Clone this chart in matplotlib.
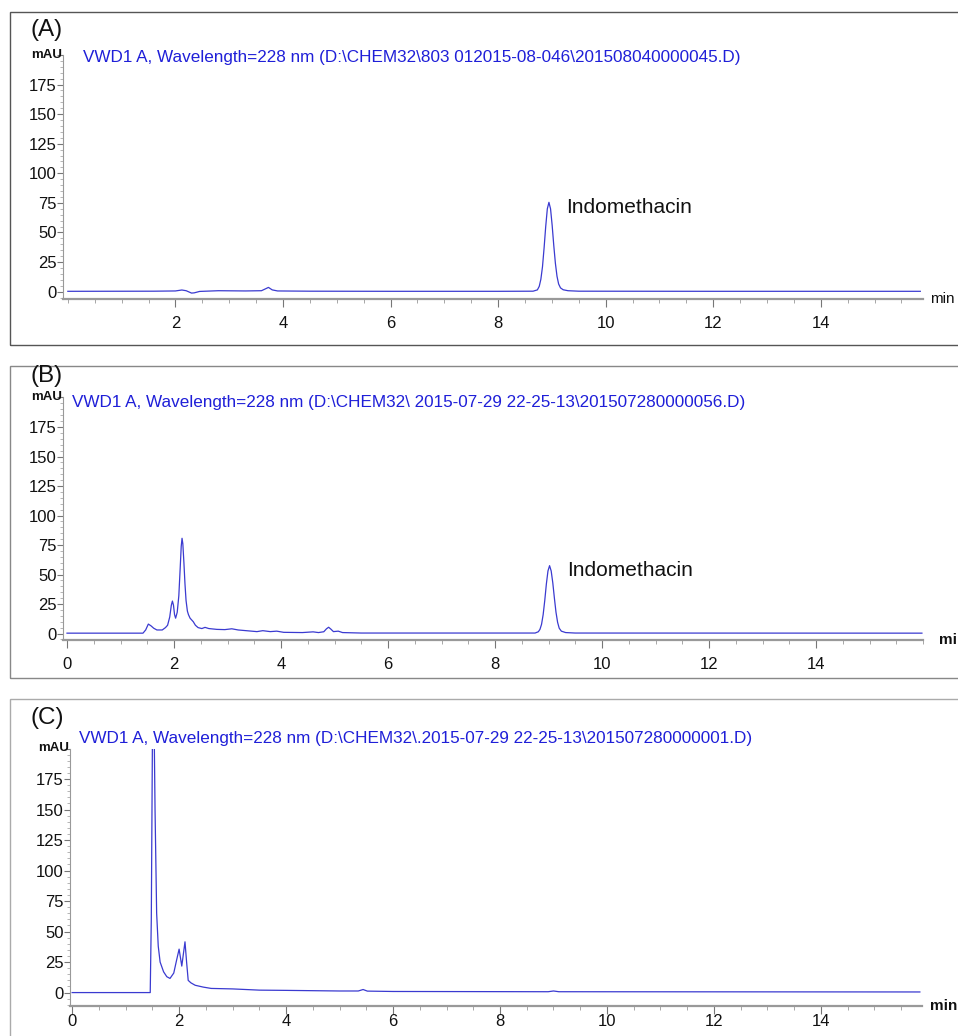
import matplotlib.pyplot as plt
from matplotlib.patches import Rectangle
from matplotlib.ticker import MultipleLocator

plt.rcParams['font.family'] = ['Liberation Sans', 'DejaVu Sans']

# chromatogram A (standard)
time_a = [0.0, 1.6, 2.0, 2.12, 2.2, 2.3, 2.35, 2.45, 2.8, 3.3, 3.6, 3.68, 3.73, 3.8, 3.9,
          4.5, 6.0, 8.0, 8.65, 8.73, 8.765, 8.795, 8.825, 8.855, 8.885, 8.915, 8.945,
          8.975, 9.005, 9.035, 9.065, 9.095, 9.125, 9.16, 9.21, 9.3, 9.5, 12.0, 15.85]
signal_a = [0.3, 0.4, 0.6, 1.4, 0.8, -1.2, -1.0, 0.2, 0.8, 0.6, 0.8, 2.5, 3.6, 1.5, 0.6,
            0.4, 0.3, 0.3, 0.4, 1.5, 4.5, 10.5, 21, 37, 55, 70, 75.5,
            70, 56, 39, 24, 13, 6.5, 3.2, 1.6, 0.8, 0.4, 0.3, 0.3]

# chromatogram B (sample)
time_b = [0.0, 1.42, 1.47, 1.52, 1.57, 1.62, 1.68, 1.78, 1.84, 1.88, 1.92, 1.95, 1.97,
          1.99, 2.01, 2.03, 2.06, 2.09, 2.115, 2.135, 2.15, 2.165, 2.185, 2.205, 2.225,
          2.25, 2.27, 2.30, 2.33, 2.36, 2.40, 2.45, 2.52, 2.58, 2.65, 2.8, 2.95, 3.08,
          3.2, 3.4, 3.55, 3.66, 3.8, 3.92, 4.05, 4.4, 4.6, 4.7, 4.8, 4.85, 4.89, 4.93,
          4.98, 5.07, 5.15, 5.5, 8.75, 8.81, 8.84, 8.87, 8.90, 8.93, 8.96, 8.99, 9.02,
          9.05, 9.08, 9.11, 9.14, 9.17, 9.20, 9.24, 9.32, 9.5, 15.98]
signal_b = [0.3, 0.3, 3, 8, 6.5, 4.5, 3, 3, 5, 7, 14, 24, 27.5,
            24, 16, 13, 18, 32, 55, 74, 80.7, 76, 60, 42, 28,
            19, 16, 13, 11.5, 10, 7, 5, 4.2, 5.2, 4.2, 3.5, 3.3, 4,
            3, 2.2, 1.6, 2.4, 1.6, 2.0, 1.0, 0.8, 1.4, 0.8, 1.5, 4, 5.3, 3.8,
            1.6, 2.0, 0.8, 0.4, 0.4, 1.5, 3.5, 7.8, 16, 28, 42, 53, 57.5,
            53, 43, 30, 18, 9.5, 4.5, 2, 0.8, 0.4, 0.3]

# chromatogram C (blank)
time_c = [0.0, 1.46, 1.48, 1.50, 1.53, 1.55, 1.58, 1.61, 1.645, 1.71, 1.77, 1.83, 1.9,
          1.95, 2.0, 2.05, 2.11, 2.14, 2.17, 2.22, 2.3, 2.45, 2.6, 3.0, 3.5, 4.0, 5.0,
          5.35, 5.44, 5.52, 6.0, 8.9, 9.0, 9.1, 15.85]
signal_c = [0.0, 0.0, 60, 200, 230, 150, 65, 38, 25, 17, 13, 11.6, 16,
            26, 35.6, 21.7, 41.6, 25, 10, 8, 6, 4.5, 3.4, 3.0, 2.0, 1.8, 1.3,
            1.3, 2.5, 1.2, 0.9, 0.7, 1.3, 0.7, 0.5]

y_ticks = [0, 25, 50, 75, 100, 125, 150, 175, 200]
y_labels = ['0', '25', '50', '75', '100', '125', '150', '175', '']

panels = [
    dict(t=time_a, s=signal_a, letter='(A)', zero_label=False, min_bold=False,
         title=r'VWD1 A, Wavelength=228 nm (D:\CHEM32\803 012015-08-046\201508040000045.D)',
         rect=[63, 55, 923, 299], xlim=(-0.09, 15.9), ylim=(-6.2, 200),
         title_xy=(0.28, 197.5), peak_label=(9.27, 71.4), min_x=1.008,
         box=(12, 345, '#555555'), letter_y=30, xpad=6),
    dict(t=time_b, s=signal_b, letter='(B)', zero_label=True, min_bold=True,
         title=r'VWD1 A, Wavelength=228 nm (D:\CHEM32\ 2015-07-29 22-25-13\201507280000056.D)',
         rect=[63, 397.5, 923, 640], xlim=(-0.075, 16.0), ylim=(-5.5, 200),
         title_xy=(0.09, 196), peak_label=(9.34, 53.8), min_x=1.0186,
         box=(366, 678, '#888888'), letter_y=376, xpad=6),
    dict(t=time_c, s=signal_c, letter='(C)', zero_label=True, min_bold=True,
         title=r'VWD1 A, Wavelength=228 nm (D:\CHEM32\.2015-07-29 22-25-13\201507280000001.D)',
         rect=[70, 748.5, 922, 1006], xlim=(-0.04, 15.89), ylim=(-11, 200),
         title_xy=(0.13, 208), peak_label=None, min_x=1.009,
         box=(699, 1040, '#aaaaaa'), letter_y=718, xpad=0),
]

W, H = 958, 1036
fig = plt.figure(figsize=(W / 100, H / 100), dpi=100)

for p in panels:
    # panel frame
    top, bottom, col = p['box']
    fig.add_artist(Rectangle((10 / W, 1 - bottom / H), 1.2, (bottom - top) / H,
                             transform=fig.transFigure, fill=False,
                             edgecolor=col, linewidth=1.0))
    fig.text(30 / W, 1 - p['letter_y'] / H, p['letter'], fontsize=17.5,
             va='center', ha='left', color='#111111')

    l, t, r, b = p['rect']
    ax = fig.add_axes([l / W, 1 - b / H, (r - l) / W, (b - t) / H])
    ax.plot(p['t'], p['s'], color='#3a3ad0', linewidth=0.9)
    ax.set_xlim(*p['xlim'])
    ax.set_ylim(*p['ylim'])

    for side in ['top', 'right']:
        ax.spines[side].set_visible(False)
    ax.spines['bottom'].set_color('#999999')
    ax.spines['bottom'].set_linewidth(1.6)
    ax.spines['left'].set_color('#999999')
    ax.spines['left'].set_linewidth(0.8)

    xt = [0, 2, 4, 6, 8, 10, 12, 14] if p['zero_label'] else [2, 4, 6, 8, 10, 12, 14]
    ax.set_xticks(xt)
    ax.set_xticklabels([str(v) for v in xt])
    ax.xaxis.set_minor_locator(MultipleLocator(0.5))
    ax.set_yticks(y_ticks)
    ax.set_yticklabels(y_labels)
    ax.yaxis.set_minor_locator(MultipleLocator(5))

    ax.tick_params(axis='x', which='major', direction='out', length=6, width=0.8,
                   color='#777777', labelsize=12, pad=p['xpad'], labelcolor='#111111')
    ax.tick_params(axis='x', which='minor', direction='out', length=3, width=0.6,
                   color='#999999')
    ax.tick_params(axis='y', which='major', direction='out', length=4, width=0.8,
                   color='#777777', labelsize=12, pad=0.5, labelcolor='#111111')
    ax.tick_params(axis='y', which='minor', direction='out', length=2, width=0.5,
                   color='#999999')

    # unit label sits at the top tick, right against the axis
    ax.annotate('mAU', xy=(0, 200), xycoords=('axes fraction', 'data'),
                xytext=(-0.5, 0), textcoords='offset points', ha='right',
                va='center', fontsize=9.5, fontweight='bold', color='#111111',
                annotation_clip=False)

    ax.text(p['title_xy'][0], p['title_xy'][1], p['title'], color='#1f1fd8',
            fontsize=12.3, va='center', ha='left', clip_on=False)
    if p['peak_label']:
        ax.text(p['peak_label'][0], p['peak_label'][1], 'Indomethacin',
                fontsize=15, va='center', ha='left', color='#111111')
    ax.text(p['min_x'], 0, 'min', transform=ax.transAxes, fontsize=11,
            va='center', ha='left', color='#111111',
            fontweight='bold' if p['min_bold'] else 'normal')

fig.savefig('out.png', dpi=100)
